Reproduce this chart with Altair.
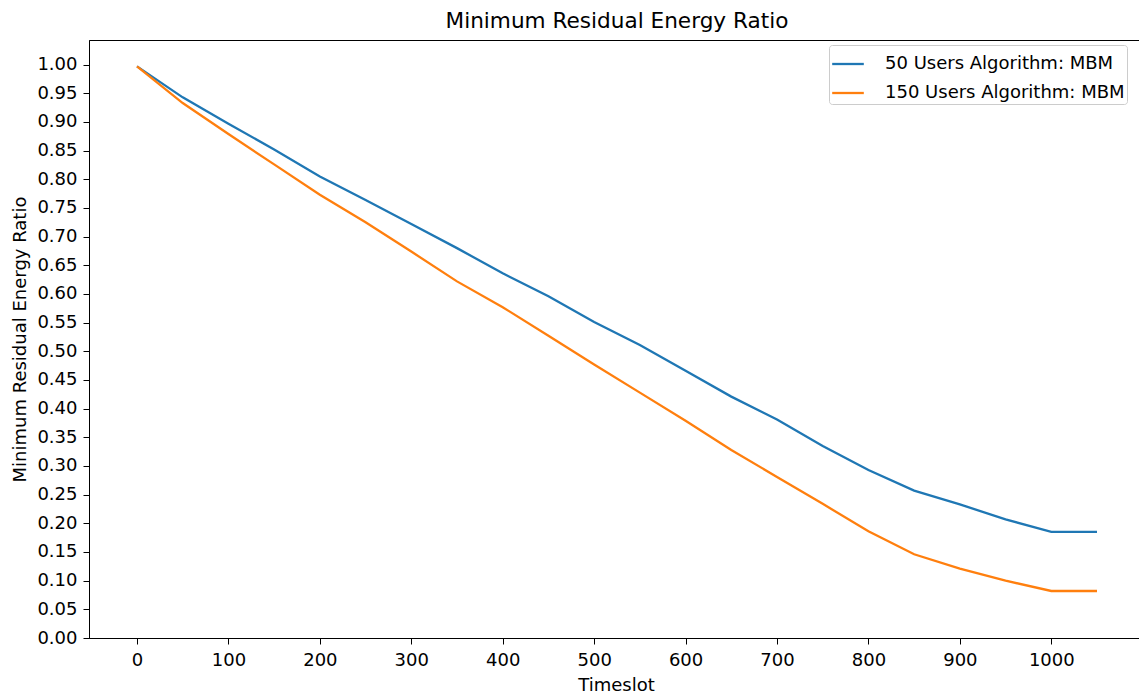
import altair as alt
import pandas as pd

timeslots = list(range(0, 1051, 50))
users50 = [0.997, 0.943, 0.897, 0.852, 0.805, 0.764, 0.722, 0.680, 0.636, 0.596,
           0.551, 0.511, 0.466, 0.421, 0.381, 0.335, 0.293, 0.257, 0.233, 0.207,
           0.185, 0.185]
users150 = [0.997, 0.933, 0.879, 0.826, 0.773, 0.725, 0.674, 0.622, 0.577, 0.527,
            0.477, 0.428, 0.379, 0.328, 0.281, 0.234, 0.186, 0.146, 0.121, 0.100,
            0.082, 0.082]
series = ["50 Users Algorithm: MBM", "150 Users Algorithm: MBM"]
colors = ["#1f77b4", "#ff7f0e"]
x_ticks = list(range(0, 1001, 100))
y_ticks = [round(i * 0.05, 2) for i in range(21)]

n = len(timeslots)
df = pd.DataFrame({
    "Timeslot": timeslots * 2,
    "Ratio": users50 + users150,
    "Series": [series[0]] * n + [series[1]] * n,
    "ord": [0] * n + [1] * n,
})

FONT = "DejaVu Sans"
FS = 18
W = 1056
H = 598

chart = alt.Chart(df).mark_line(strokeWidth=2.3).encode(
    x=alt.X("Timeslot:Q",
            scale=alt.Scale(domain=[-52.5, 1102.5], nice=False, zero=False),
            axis=alt.Axis(values=x_ticks, title="Timeslot", grid=False, format="d",
                          labelPadding=7,
                          titleX=W / 2 - 1, titleY=52, titleBaseline="alphabetic")),
    y=alt.Y("Ratio:Q",
            scale=alt.Scale(domain=[0, 1.043], nice=False, zero=False),
            axis=alt.Axis(values=y_ticks, format=".2f", title="Minimum Residual Energy Ratio",
                          grid=False, titleX=-64, titleY=H / 2, titleBaseline="alphabetic",
                          titleAngle=-90, labelPadding=6)),
    color=alt.Color("Series:N",
                    scale=alt.Scale(domain=series, range=colors),
                    sort=series,
                    legend=alt.Legend(title=None, orient="none", legendX=740, legendY=5,
                                      symbolType="stroke", symbolSize=1000,
                                      symbolStrokeWidth=2.3, labelOffset=20,
                                      labelFontSize=FS, labelFont=FONT, labelColor="black",
                                      labelLimit=0, rowPadding=3, padding=2,
                                      fillColor="white",
                                      strokeColor="#cccccc", cornerRadius=3)),
    detail="ord:O",
).properties(
    width=W,
    height=H,
    title=alt.TitleParams("Minimum Residual Energy Ratio", fontSize=21.6, font=FONT,
                          fontWeight="normal", color="black", offset=12, dy=22,
                          baseline="alphabetic", frame="group"),
    padding={"left": 89, "top": 40, "right": -6, "bottom": 58},
    autosize="none",
).configure_view(
    stroke="black", strokeWidth=1
).configure_axis(
    labelFont=FONT, labelFontSize=FS, labelColor="black",
    titleFont=FONT, titleFontSize=FS, titleColor="black", titleFontWeight="normal",
    domainColor="black", tickColor="black", tickSize=6,
    domainWidth=1, tickWidth=1
)

chart.save("out.html", embed_options={"renderer": "svg", "actions": False})
